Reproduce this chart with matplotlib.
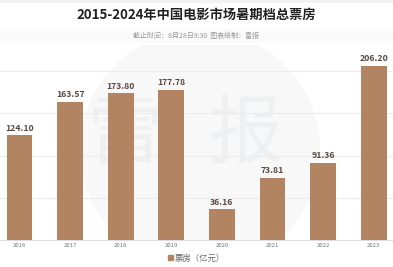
import matplotlib
matplotlib.use("Agg")
import matplotlib.pyplot as plt
from matplotlib.patches import Patch, Circle, Rectangle

plt.rcParams['font.family'] = ['Noto Sans CJK SC', 'DejaVu Sans']

years = ['2016', '2017', '2018', '2019', '2020', '2021', '2022', '2023']
box_office = [124.10, 163.57, 173.80, 177.78, 36.16, 73.81, 91.36, 206.20]
title = '2015-2024年中国电影市场暑期档总票房'
subtitle = '截止时间：8月28日9:30  图表绘制：雷报'
legend_label = '票房（亿元）'

W, H = 393, 267
fig = plt.figure(figsize=(W / 100, H / 100), dpi=100)
fig.patch.set_facecolor('white')

# background axes for watermark
bg = fig.add_axes([0, 0, 1, 1], zorder=0)
bg.set_xlim(0, W)
bg.set_ylim(H, 0)
bg.axis('off')
clip = Rectangle((0, 45), W, 195, transform=bg.transData, visible=False)
bg.add_patch(clip)
disk = Circle((200, 150), 120, color='#f8f8f8', lw=0)
bg.add_patch(disk)
disk.set_clip_path(clip)
bg.text(125, 137, '雷', fontsize=54, color='#eef0f1', ha='center', va='center')
bg.text(245, 136, '报', fontsize=54, color='#eef0f1', ha='center', va='center')
bg.add_patch(Rectangle((0, 0), W, 3, color='#f3f3f3', lw=0))
bg.add_patch(Rectangle((0, 29), W, 14, color='#fafafa', lw=0))

# axes: baseline at y=240px, 0.844 px per unit
bottom_px = 240
top_px = 55
ax = fig.add_axes([0, 1 - bottom_px / H, 1, (bottom_px - top_px) / H], zorder=1)
ax.set_facecolor('none')
ax.set_xlim(-0.385, 7.38)
ax.set_ylim(0, (bottom_px - top_px) / 0.844)

x = list(range(len(years)))
ax.bar(x, box_office, width=0.51, color='#B38462', zorder=3)
for xi, v in zip(x, box_office):
    ax.text(xi, v + 3, f'{v:.2f}', ha='center', va='bottom', fontsize=6.3,
            color='#5a4a44', fontweight='bold', zorder=4)

ax.set_yticks([50, 100, 150, 200])
ax.yaxis.grid(True, color='#ececec', linewidth=0.8, zorder=0)
ax.set_axisbelow(True)
ax.tick_params(axis='y', left=False, labelleft=False)
ax.set_xticks(x)
ax.set_xticklabels(years, fontsize=4.3, color='#777777')
ax.tick_params(axis='x', length=0, pad=2.5)
for s in ['top', 'right', 'left']:
    ax.spines[s].set_visible(False)
ax.spines['bottom'].set_color('#dddddd')
ax.spines['bottom'].set_linewidth(0.8)

fig.text(0.5, 1 - 15 / H, title, ha='center', va='center', fontsize=9.5,
         fontweight='bold', color='#222222')
fig.text(0.5, 1 - 36 / H, subtitle, ha='center', va='center', fontsize=5,
         color='#999999')

leg = fig.legend(handles=[Patch(color='#B38462')], labels=[legend_label],
                 loc='center', bbox_to_anchor=(0.5, 1 - 258 / H), frameon=False,
                 fontsize=6, handlelength=0.6, handleheight=0.6, handletextpad=0.3,
                 borderpad=0, borderaxespad=0)
for t in leg.get_texts():
    t.set_color('#666666')

fig.savefig('out.png', dpi=100)
